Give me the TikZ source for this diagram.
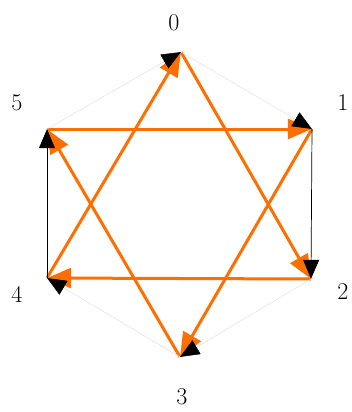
\documentclass[tikz,border=0pt]{standalone}
\usetikzlibrary{arrows.meta}
\definecolor{arcorange}{RGB}{255,110,0}
\begin{document}
\begin{tikzpicture}[x=1pt, y=-1pt,
    vtx/.style={circle,inner sep=0pt,minimum size=0pt},
    vlabel/.style={font=\fontsize{24}{28}\selectfont,inner sep=0pt},
    star arc/.style={draw=arcorange,line width=3pt,-{Triangle[length=24pt,width=20pt,color=arcorange]}},
    ring arc/.style={draw=black!12,line width=0.5pt,-{Triangle[length=19pt,width=16pt,color=black]}},
    dark arc/.style={draw=black,line width=0.7pt,-{Triangle[length=19pt,width=16pt,color=black]}} ]
    \useasboundingbox (0,0) rectangle (351,412);
    \node at (181,52) [vtx] (v0) {};
    \node at (312,129) [vtx] (v1) {};
    \node at (311,279) [vtx] (v2) {};
    \node at (180,357) [vtx] (v3) {};
    \node at (47,278) [vtx] (v4) {};
    \node at (47,129) [vtx] (v5) {};
    \node at (174,23) [vlabel] (l0) {0};
    \node at (343,103) [vlabel] (l1) {1};
    \node at (343,292) [vlabel] (l2) {2};
    \node at (182,397) [vlabel] (l3) {3};
    \node at (17,294) [vlabel] (l4) {4};
    \node at (17,103) [vlabel] (l5) {5};
    % star of David arcs
    \draw [star arc] (v0) to (v2);
    \draw [star arc] (v2) to (v4);
    \draw [star arc] (v4) to (v0);
    \draw [star arc] (v1) to (v3);
    \draw [star arc] (v3) to (v5);
    \draw [star arc] (v5) to (v1);
    % outer ring
    \draw [ring arc] (v5) to (v0);
    \draw [ring arc] (v0) to (v1);
    \draw [dark arc] (v1) to (v2);
    \draw [ring arc] (v2) to (v3);
    \draw [ring arc] (v3) to (v4);
    \draw [dark arc] (v4) to (v5);
\end{tikzpicture}
\end{document}
